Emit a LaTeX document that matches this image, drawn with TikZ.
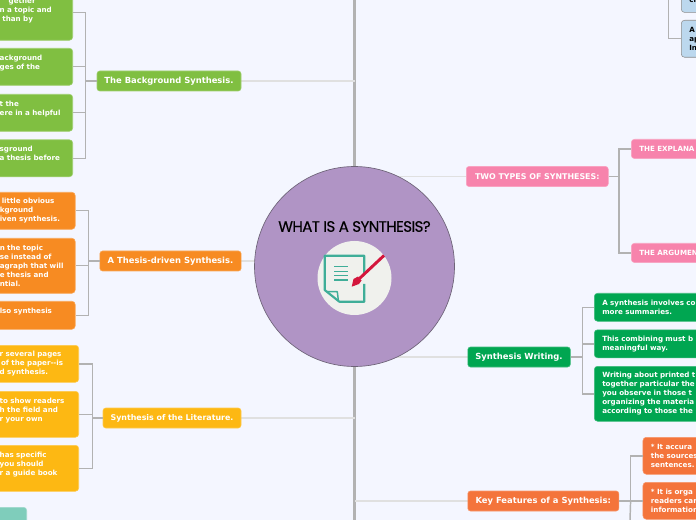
\documentclass[tikz,border=0pt]{standalone}
\usepackage{fontspec}
\setmainfont{DejaVu Sans}
\newfontfamily\hubfont[LetterSpace=-4,FakeBold=0.3]{Poppins}
\usepackage{tikz}
\usetikzlibrary{positioning}
\usetikzlibrary{backgrounds}
\usetikzlibrary{calc}

\definecolor{pagebg}{HTML}{F4F6FF}
\definecolor{hubfill}{HTML}{B094C5}
\definecolor{hubline}{HTML}{6E6478}
\definecolor{iconbg}{HTML}{F0F1ED}
\definecolor{doccol}{HTML}{3FAE98}
\definecolor{pencol}{HTML}{D4163C}
\definecolor{bgcol}{HTML}{80BF41}
\definecolor{thcol}{HTML}{F78B22}
\definecolor{litcol}{HTML}{FDB813}
\definecolor{typecol}{HTML}{F783AC}
\definecolor{writecol}{HTML}{00A651}
\definecolor{keycol}{HTML}{F4743B}
\definecolor{bluecol}{HTML}{BCD8EE}
\definecolor{tealcol}{HTML}{7FCDBB}

\begin{document}
\begin{tikzpicture}[
  x=0.75pt, y=-0.75pt,
  every node/.style={font=\fontsize{5.35}{6.75}\selectfont\bfseries},
  topic/.style={rectangle, rounded corners=2pt, text=white, inner xsep=2pt, inner ysep=0pt,
    minimum height=15pt, text height=4.7pt, text depth=0.3pt, fill=#1, draw=#1!75!white, line width=0.4pt,
    font=\fontsize{6.3}{7}\selectfont\bfseries},
  smalltopic/.style={font=\fontsize{5.92}{7}\selectfont\bfseries},
  leaf/.style={rectangle, rounded corners=2.5pt, text=white, inner xsep=6pt, inner ysep=0pt,
    align=left, fill=#1, draw=#1!75!white, line width=0.4pt},
  h2/.style={minimum height=21pt},
  h3/.style={minimum height=27.75pt},
  h4/.style={minimum height=34.5pt},
  h5/.style={minimum height=41.25pt},
  conn/.style={draw=black!30, line width=1.1pt},
  branch/.style={draw=black!12, line width=0.8pt},
  trunk/.style={draw=black!30, line width=2pt}
]

\useasboundingbox (0,0) rectangle (696,520);

% ---------- Central topic ----------
\node[circle, fill=hubfill, draw=hubline, line width=0.5pt, minimum size=150pt, inner sep=0pt] (hub) at (354.5,266.5) {};
\node[font=\fontsize{11.3}{12}\hubfont, text=black, inner sep=0pt] (hubtitle) at (354.5,226.5) {WHAT IS A SYNTHESIS?};
\node[circle, fill=iconbg, minimum size=55.5pt, inner sep=0pt] (icon) at (354.5,278) {};

% icon: sheet and pen
\draw[doccol, line width=1.6pt, line join=round] (364.3,274) -- (364.3,255.7) -- (324.7,255.7) -- (324.7,290) -- (339.3,301.7) -- (364.3,301.7) -- (364.3,284);
\draw[doccol, line width=1.1pt, line join=round] (326.7,291.7) -- (337.3,291.7) -- (338.3,300);
\foreach \ypos in {266.7,271.7,275.7,280}
  \draw[doccol, line width=1pt] (334,\ypos) -- (348.3,\ypos);
\draw[pencol, line width=2.2pt] (384,255.5) -- (359.5,278.5);
\fill[pencol] (351.7,286.7) -- (353.5,279) -- (358,276.5) -- (361.5,280.5) -- (359,284) -- cycle;

% ---------- The Background Synthesis ----------
\node[topic=bgcol, minimum width=108pt] (bgmain) at (169,81) {The Background Synthesis.};
\node[leaf=bgcol, h5, text width=48.75pt, anchor=north east] (bg1) at (73,-15) {\mbox{}\\\hspace*{6.75pt}gether\\n a topic and\\\hspace*{2pt}than by\\\mbox{}};
\node[leaf=bgcol, h3, text width=48.75pt, anchor=north east] (bg2) at (73,48) {ackground\\ges of the\\\mbox{}};
\node[leaf=bgcol, h3, text width=48.75pt, anchor=north east] (bg3) at (73,94) {t the\\ere in a helpful\\\mbox{}};
\node[leaf=bgcol, h3, text width=48.75pt, anchor=north east] (bg4) at (73,139.5) {sground\\a thesis before\\\mbox{}};
\foreach \kid in {bg1,bg2,bg3,bg4}
  \draw[conn] (bgmain.west) -- ++(-11,0) |- (\kid.east);

% ---------- A Thesis-driven Synthesis ----------
\node[topic=thcol, minimum width=106pt] (thmain) at (170.5,261) {A Thesis-driven Synthesis.};
\node[leaf=thcol, h3, text width=50.6pt, anchor=north east] (th1) at (75.5,192) {\hspace*{1.5pt}little obvious\\kground\\iven synthesis.};
\node[leaf=thcol, h5, text width=50.6pt, anchor=north east] (th2) at (75.5,238) {n the topic\\se instead of\\agraph that will\\e thesis and\\ntial.};
\node[leaf=thcol, h2, text width=50.6pt, anchor=north east] (th3) at (75.5,301) {lso synthesis\\\mbox{}};
\foreach \kid in {th1,th2,th3}
  \draw[conn] (thmain.west) -- ++(-11,0) |- (\kid.east);

% ---------- Synthesis of the Literature ----------
\node[topic=litcol, smalltopic, minimum width=103.5pt] (litmain) at (172,418) {Synthesis of the Literature.};
\node[leaf=litcol, h3, text width=53.25pt, anchor=north east] (lit1) at (79,345) {r several pages\\\hspace*{1pt}of the paper{-}{-}is\\d synthesis.};
\node[leaf=litcol, h4, text width=53.25pt, anchor=north east] (lit2) at (79,391) {to show readers\\h the field and\\r your own\\\mbox{}};
\node[leaf=litcol, h4, text width=53.25pt, anchor=north east] (lit3) at (79,445) {has specific\\you should\\r a guide book\\\mbox{}};
\foreach \kid in {lit1,lit2,lit3}
  \draw[conn] (litmain.west) -- ++(-10.5,0) |- (\kid.east);

% teal box at the lower edge
\node[leaf=tealcol, h3, text width=20.25pt, anchor=north east] (teal) at (27,507) {lll\\\mbox{}\\\mbox{}};

% ---------- Two types of syntheses ----------
\node[topic=typecol, smalltopic, minimum width=106.5pt, anchor=west] (typemain) at (466,176.5) {TWO TYPES OF SYNTHESES:};
\node[leaf=typecol, minimum height=14.5pt, text width=70pt, anchor=north west] (type1) at (631,139) {THE EXPLANA};
\node[leaf=typecol, minimum height=14.5pt, text width=70pt, anchor=north west] (type2) at (631,243) {THE ARGUMEN};
\foreach \kid in {type1,type2}
  \draw[conn] (typemain.east) -- ++(10.5,0) |- (\kid.west);

% blue boxes at the upper edge
\coordinate (bluestem) at (668.7,-5);
\node[leaf=bluecol, h3, text=black, draw=black!45, text width=60pt, anchor=south west] (blue1) at (681,12.7) {\mbox{}\\\mbox{}\\cr};
\node[leaf=bluecol, h3, text=black, draw=black!45, text width=60pt, anchor=north west] (blue2) at (681,20) {A\\ap\\In};
\draw[conn] (bluestem) |- (blue2.west);

% ---------- Synthesis Writing ----------
\node[topic=writecol, minimum width=76.9pt, anchor=west] (writemain) at (467.5,357) {Synthesis Writing.};
\node[leaf=writecol, h2, text width=120pt, anchor=north west] (write1) at (594,293) {A synthesis involves co\\more summaries.};
\node[leaf=writecol, h2, text width=120pt, anchor=north west] (write2) at (594,329.5) {This combining must b\\meaningful way.};
\node[leaf=writecol, h5, text width=120pt, anchor=north west] (write3) at (594,366) {Writing about printed t\\together particular the\\you observe in those t\\organizing the materia\\according to those the};
\foreach \kid in {write1,write2,write3}
  \draw[conn] (writemain.east) -- ++(12,0) |- (\kid.west);

% ---------- Key Features of a Synthesis ----------
\node[topic=keycol, minimum width=113.3pt, anchor=west] (keymain) at (467.5,501) {Key Features of a Synthesis:};
\node[leaf=keycol, h3, text width=80pt, anchor=north west] (key1) at (642.7,437) {* It accura\\the sources\\sentences.};
\node[leaf=keycol, h3, text width=80pt, anchor=north west] (key2) at (642.7,482) {* It is orga\\readers car\\information};
\coordinate (keystem) at (629.7,530);
\foreach \kid in {key1,key2}
  \draw[conn] (keymain.east) -- ++(11.5,0) |- (\kid.west);
\draw[conn] (keymain.east) -- ++(11.5,0) -- (keystem);

% ---------- Lines behind the central topic ----------
\coordinate (stemtop) at (354.5,-5);
\coordinate (stembot) at (354.5,525);
\begin{pgfonlayer}{background}
  \fill[pagebg] (0,0) rectangle (696,520);
  \draw[trunk] (hub.center) -- (stemtop);
  \draw[trunk] (hub.center) -- (stembot);
  \foreach \mainnode in {bgmain,thmain,litmain}
    \draw[branch] (\mainnode.east) -- (\mainnode.east -| hub.center);
  \foreach \mainnode in {typemain,writemain,keymain}
    \draw[branch] (\mainnode.west) -- (\mainnode.west -| hub.center);
\end{pgfonlayer}

\end{tikzpicture}
\end{document}
